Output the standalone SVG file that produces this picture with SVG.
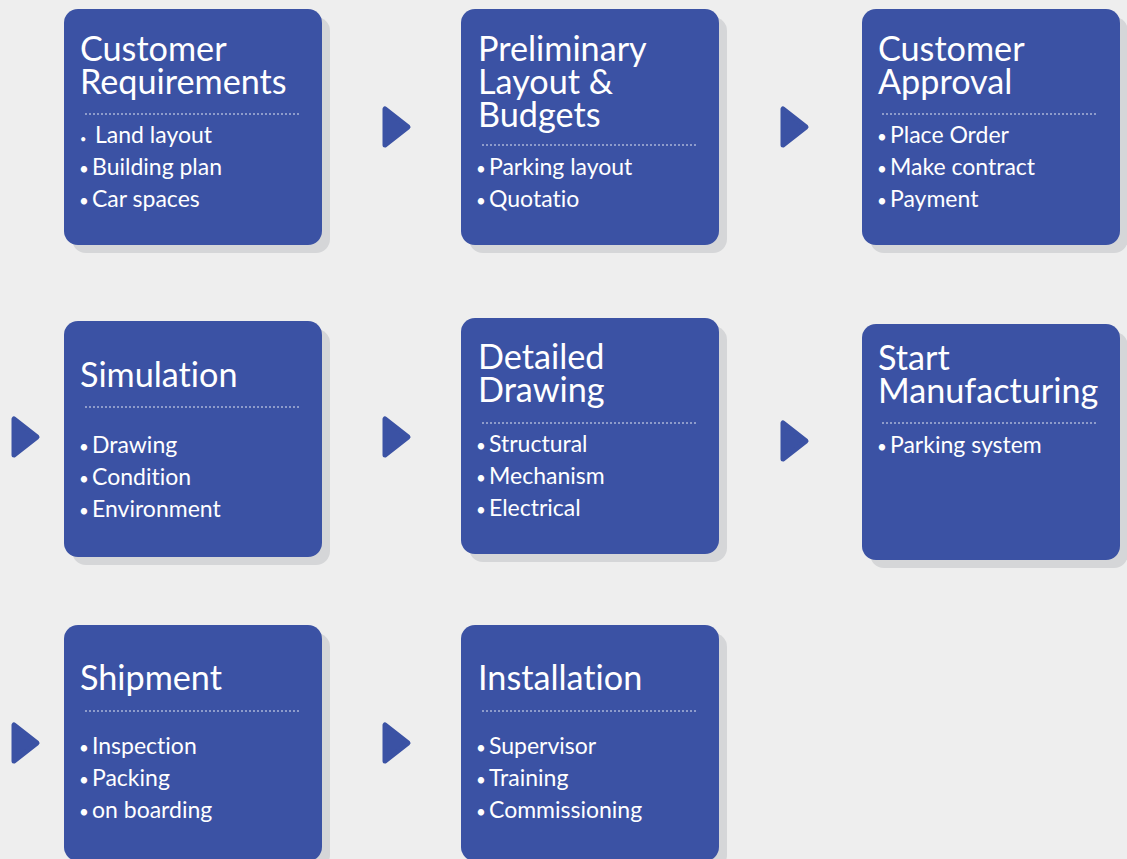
<svg xmlns="http://www.w3.org/2000/svg" width="1127" height="859" viewBox="0 0 1127 859">
<defs>
<style>
.bg{fill:#eeeeee}
.sh{fill:#d5d6d8}
.bx{fill:#3b52a4}
.t{font-family:Lato,"Liberation Sans",sans-serif;font-size:34.2px;fill:#ffffff;font-variant-ligatures:none}
.i{font-family:Lato,"Liberation Sans",sans-serif;font-size:23px;fill:#ffffff;font-variant-ligatures:none}
.b{font-size:17px}
.dl{stroke:#ffffff;stroke-width:1;stroke-dasharray:2 2;opacity:0.85}
.ar{fill:#3b52a4;stroke:#3b52a4;stroke-width:5;stroke-linejoin:round}
</style>
</defs>
<rect class="bg" x="0" y="0" width="1127" height="859"/>
<g id="connectors">
<polygon class="ar" points="385,109 385,145 408,127"/>
<polygon class="ar" points="783,109 783,145 806,127"/>
<polygon class="ar" points="14,419 14,455 37,437"/>
<polygon class="ar" points="385,419 385,455 408,437"/>
<polygon class="ar" points="783,423 783,459 806,441"/>
<polygon class="ar" points="14,725 14,761 37,743"/>
<polygon class="ar" points="385,725 385,761 408,743"/>
</g>
<g id="n1">
<rect class="sh" x="72" y="17" width="258" height="236" rx="14"/>
<rect class="bx" x="64" y="9" width="258" height="236" rx="14"/>
<text class="t"><tspan x="80" y="61">Customer</tspan><tspan x="80" y="94">Requirements</tspan></text>
<line class="dl" x1="85" y1="114" x2="300" y2="114"/>
<text class="i" y="143"><tspan x="80" font-size="11">•</tspan><tspan x="95">Land layout</tspan></text>
<text class="i" y="175"><tspan class="b" x="79">•</tspan><tspan x="92">Building plan</tspan></text>
<text class="i" y="207"><tspan class="b" x="79">•</tspan><tspan x="92">Car spaces</tspan></text>
</g>
<g id="n2">
<rect class="sh" x="469" y="17" width="258" height="236" rx="14"/>
<rect class="bx" x="461" y="9" width="258" height="236" rx="14"/>
<text class="t"><tspan x="478" y="61">Preliminary</tspan><tspan x="478" y="94">Layout &amp;</tspan><tspan x="478" y="127">Budgets</tspan></text>
<line class="dl" x1="482" y1="145" x2="697" y2="145"/>
<text class="i" y="175"><tspan class="b" x="476">•</tspan><tspan x="489">Parking layout</tspan></text>
<text class="i" y="207"><tspan class="b" x="476">•</tspan><tspan x="489">Quotatio</tspan></text>
</g>
<g id="n3">
<rect class="sh" x="870" y="17" width="258" height="236" rx="14"/>
<rect class="bx" x="862" y="9" width="258" height="236" rx="14"/>
<text class="t"><tspan x="878" y="61">Customer</tspan><tspan x="878" y="94">Approval</tspan></text>
<line class="dl" x1="882" y1="114" x2="1098" y2="114"/>
<text class="i" y="143"><tspan class="b" x="877">•</tspan><tspan x="890">Place Order</tspan></text>
<text class="i" y="175"><tspan class="b" x="877">•</tspan><tspan x="890">Make contract</tspan></text>
<text class="i" y="207"><tspan class="b" x="877">•</tspan><tspan x="890">Payment</tspan></text>
</g>
<g id="n4">
<rect class="sh" x="72" y="329" width="258" height="236" rx="14"/>
<rect class="bx" x="64" y="321" width="258" height="236" rx="14"/>
<text class="t" x="80" y="387">Simulation</text>
<line class="dl" x1="85" y1="407" x2="300" y2="407"/>
<text class="i" y="453"><tspan class="b" x="79">•</tspan><tspan x="92">Drawing</tspan></text>
<text class="i" y="485"><tspan class="b" x="79">•</tspan><tspan x="92">Condition</tspan></text>
<text class="i" y="517"><tspan class="b" x="79">•</tspan><tspan x="92">Environment</tspan></text>
</g>
<g id="n5">
<rect class="sh" x="469" y="326" width="258" height="236" rx="14"/>
<rect class="bx" x="461" y="318" width="258" height="236" rx="14"/>
<text class="t"><tspan x="478" y="369">Detailed</tspan><tspan x="478" y="402">Drawing</tspan></text>
<line class="dl" x1="482" y1="423" x2="697" y2="423"/>
<text class="i" y="452"><tspan class="b" x="476">•</tspan><tspan x="489">Structural</tspan></text>
<text class="i" y="484"><tspan class="b" x="476">•</tspan><tspan x="489">Mechanism</tspan></text>
<text class="i" y="516"><tspan class="b" x="476">•</tspan><tspan x="489">Electrical</tspan></text>
</g>
<g id="n6">
<rect class="sh" x="870" y="332" width="258" height="236" rx="14"/>
<rect class="bx" x="862" y="324" width="258" height="236" rx="14"/>
<text class="t"><tspan x="878" y="370">Start</tspan><tspan x="878" y="403">Manufacturing</tspan></text>
<line class="dl" x1="882" y1="423" x2="1098" y2="423"/>
<text class="i" y="453"><tspan class="b" x="877">•</tspan><tspan x="890">Parking system</tspan></text>
</g>
<g id="n7">
<rect class="sh" x="72" y="633" width="258" height="236" rx="14"/>
<rect class="bx" x="64" y="625" width="258" height="236" rx="14"/>
<text class="t" x="80" y="690">Shipment</text>
<line class="dl" x1="85" y1="711" x2="300" y2="711"/>
<text class="i" y="754"><tspan class="b" x="79">•</tspan><tspan x="92">Inspection</tspan></text>
<text class="i" y="786"><tspan class="b" x="79">•</tspan><tspan x="92">Packing</tspan></text>
<text class="i" y="818"><tspan class="b" x="79">•</tspan><tspan x="92">on boarding</tspan></text>
</g>
<g id="n8">
<rect class="sh" x="469" y="633" width="258" height="236" rx="14"/>
<rect class="bx" x="461" y="625" width="258" height="236" rx="14"/>
<text class="t" x="478" y="690">Installation</text>
<line class="dl" x1="482" y1="711" x2="697" y2="711"/>
<text class="i" y="754"><tspan class="b" x="476">•</tspan><tspan x="489">Supervisor</tspan></text>
<text class="i" y="786"><tspan class="b" x="476">•</tspan><tspan x="489">Training</tspan></text>
<text class="i" y="818"><tspan class="b" x="476">•</tspan><tspan x="489">Commissioning</tspan></text>
</g>
</svg>
